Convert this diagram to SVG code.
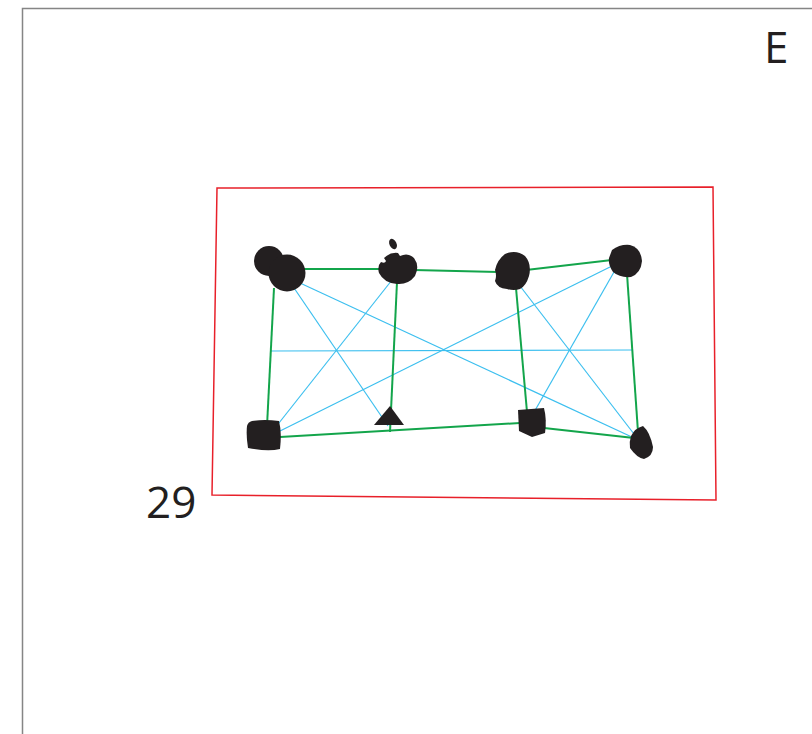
<svg xmlns="http://www.w3.org/2000/svg" width="812" height="734" viewBox="0 0 812 734">
<style>
.g{stroke:#13a54b;stroke-width:2;fill:none}
.b{stroke:#3cbfef;stroke-width:1.2;fill:none}
.n{fill:#231f20}
.t{font-family:"Open Sans","Liberation Sans",sans-serif;font-size:44px;fill:#231f20}
</style>
<rect width="812" height="734" fill="#fff"/>
<path d="M22.5 734 V8.5 H812" fill="none" stroke="#858585" stroke-width="1.5"/>
<polygon points="217,188 713,187 716,500 212,495" fill="none" stroke="#e8202a" stroke-width="1.5"/>
<text class="t" x="764" y="63">E</text>
<text class="t" x="146" y="518">29</text>
<g id="connectors">
<line class="b" x1="270" y1="351" x2="632" y2="350"/>
<line class="b" x1="292" y1="285" x2="388" y2="426"/>
<line class="b" x1="392" y1="280" x2="275" y2="428"/>
<line class="b" x1="300" y1="283" x2="634" y2="438"/>
<line class="b" x1="612" y1="266" x2="278" y2="432"/>
<line class="b" x1="520" y1="286" x2="634" y2="434"/>
<line class="b" x1="614" y1="272" x2="533" y2="414"/>
<line class="g" x1="296" y1="269" x2="382" y2="269"/>
<line class="g" x1="414" y1="270" x2="498" y2="272"/>
<line class="g" x1="526" y1="270" x2="612" y2="260"/>
<line class="g" x1="274" y1="288" x2="267" y2="426"/>
<line class="g" x1="397" y1="282" x2="390" y2="432"/>
<line class="g" x1="516" y1="288" x2="527" y2="412"/>
<line class="g" x1="627" y1="274" x2="638" y2="432"/>
<line class="g" x1="280" y1="437" x2="520" y2="423"/>
<line class="g" x1="544" y1="428" x2="634" y2="438"/>
</g>
<g id="node-a" class="n">
<circle cx="269" cy="261" r="15"/>
<circle cx="287" cy="273" r="18.5"/>
</g>
<g id="node-b" class="n">
<path d="M384 258 Q390 252 398 253 L400 256 Q408 252 414 258 Q420 266 415 276 Q408 285 397 284 Q384 283 379 273 Q377 266 381 262 Q385 264 386 261 Z"/>
<ellipse cx="393" cy="244" rx="3.5" ry="5.5" transform="rotate(-25 393 244)"/>
</g>
<g id="node-c" class="n">
<path d="M505 254 Q516 249 525 256 Q532 264 529 276 Q526 286 520 289 Q514 291 507 289 Q497 288 495 281 Q497 276 495 270 Q497 260 505 254 Z"/>
</g>
<g id="node-d" class="n">
<path d="M612 250 Q620 244 630 245 Q641 248 642 261 Q641 273 631 277 Q620 278 613 272 Q608 265 609 258 Z"/>
</g>
<g id="node-e" class="n">
<path d="M252 421 Q264 419 279 421 Q282 432 280 449 Q268 452 248 448 Q246 436 247 426 Q248 422 252 421 Z"/>
</g>
<g id="node-f" class="n">
<polygon points="390,406 404,425 374,425"/>
</g>
<g id="node-g" class="n">
<path d="M518 410 L544 408 Q547 420 545 433 L532 437 L519 431 Z"/>
</g>
<g id="node-h" class="n">
<path d="M631 436 Q635 428 643 426 Q650 432 653 447 Q653 456 644 459 Q637 458 630 448 Q629 442 631 436 Z"/>
</g>
</svg>
